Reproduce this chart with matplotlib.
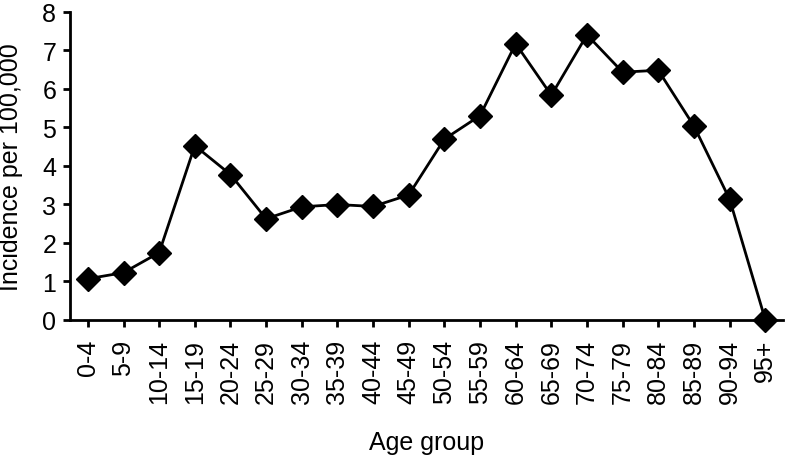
import matplotlib
matplotlib.use('Agg')
import matplotlib.pyplot as plt

# age groups and incidence per 100,000
age_groups = ['0-4', '5-9', '10-14', '15-19', '20-24', '25-29', '30-34',
              '35-39', '40-44', '45-49', '50-54', '55-59', '60-64', '65-69',
              '70-74', '75-79', '80-84', '85-89', '90-94', '95+']
incidence = [1.06, 1.22, 1.74, 4.52, 3.77, 2.62, 2.93, 2.99, 2.94, 3.24,
             4.69, 5.30, 7.17, 5.83, 7.40, 6.43, 6.48, 5.03, 3.13, 0.0]

plt.rcParams['font.family'] = ['Liberation Sans', 'DejaVu Sans']

fig = plt.figure(figsize=(7.87, 4.56), dpi=100)
ax = fig.add_axes([0.089, 0.297, 0.906, 0.675])

x = list(range(len(age_groups)))
ax.plot(x, incidence, color='black', linewidth=2, marker='D',
        markersize=12, markerfacecolor='black', markeredgecolor='black',
        clip_on=False, zorder=3)

ax.set_xlim(-0.5, len(age_groups) - 0.5)
ax.set_ylim(0, 8)
ax.set_yticks(range(0, 9))
ax.set_xticks(x)
ax.set_xticklabels(age_groups, rotation=90)

for side in ['top', 'right']:
    ax.spines[side].set_visible(False)
for side in ['left', 'bottom']:
    ax.spines[side].set_linewidth(2)

ax.tick_params(axis='both', direction='out', length=5, width=2,
               labelsize=18, color='black')
ax.tick_params(axis='x', pad=9)
ax.tick_params(axis='y', pad=5)
ax.set_ylabel('Incidence per 100,000', fontsize=18)
ax.set_xlabel('Age group', fontsize=18)
ax.yaxis.set_label_coords(-0.066, 0.5)
ax.xaxis.set_label_coords(0.5, -0.36)

fig.savefig('out.png', dpi=100)
